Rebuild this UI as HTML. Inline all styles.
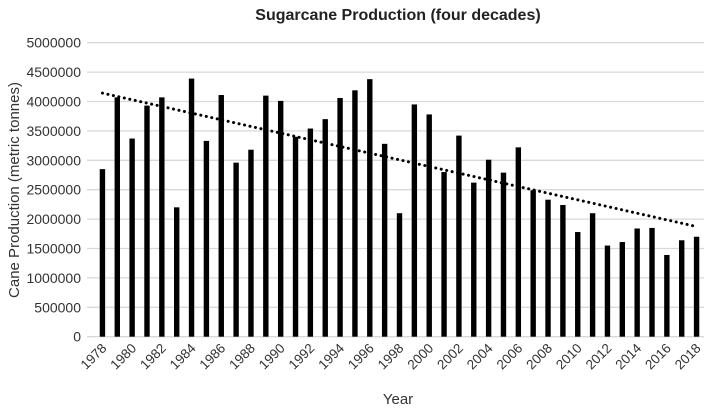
<!DOCTYPE html>
<html><head><meta charset="utf-8"><style>
body{margin:0;background:#fff;}
svg text{font-family:"Liberation Sans",sans-serif;fill:#333;}
</style></head><body>
<svg id="chart" width="709" height="410" xmlns="http://www.w3.org/2000/svg">
<text x="398" y="20" text-anchor="middle" font-size="16" font-weight="bold" style="fill:#222">Sugarcane Production  (four decades)</text>
<text transform="translate(19,190) rotate(-90)" text-anchor="middle" font-size="15">Cane Production (metric tonnes)</text>
<text x="398" y="404" text-anchor="middle" font-size="15">Year</text>
<g id="grid"></g><g id="bars"></g><g id="trend"></g><g id="xt"></g><g id="yt"></g>
</svg>
<script>
const years=[];for(let y=1978;y<=2018;y++)years.push(y);
const production=[2850000,4070000,3370000,3930000,4070000,2200000,4390000,3330000,4110000,2960000,3180000,4100000,4010000,3400000,3540000,3700000,4060000,4190000,4380000,3280000,2100000,3950000,3780000,2800000,3420000,2620000,3010000,2790000,3220000,2490000,2330000,2240000,1780000,2100000,1550000,1610000,1840000,1850000,1390000,1640000,1700000];
const yTicks=[0,500000,1000000,1500000,2000000,2500000,3000000,3500000,4000000,4500000,5000000];
const NS="http://www.w3.org/2000/svg";
const L=95,R=704,T=42.7,B=336.7,yMax=5000000;
const bw=(R-L)/years.length;
const X=i=>L+bw*(i+0.5);
const Y=v=>B-(B-T)*v/yMax;
function mk(tag,attrs,parent,txt){const e=document.createElementNS(NS,tag);for(const k in attrs)e.setAttribute(k,attrs[k]);if(txt!==undefined)e.textContent=txt;document.getElementById(parent).appendChild(e);return e;}
yTicks.forEach(t=>{
 const g=mk('line',{x1:L-8,x2:R,y1:Y(t),y2:Y(t),stroke:'#d9d9d9','stroke-width':1.3},'grid');
 
 
 const tx=mk('text',{x:81,y:Y(t)+5,'text-anchor':'end','font-size':14},'yt',String(t));
 
 
});
production.forEach((v,i)=>{
 const r=mk('rect',{x:X(i)-2.7,y:Y(v),width:5.4,height:B-Y(v),fill:'#000'},'bars');
 
 
});
years.forEach((y,i)=>{if(i%2)return;
 const t=mk('text',{transform:`translate(${X(i)+5},349) rotate(-45)`,'text-anchor':'end','font-size':13.5},'xt',String(y));
 
 
});
const n=production.length;let sx=0,sy=0,sxx=0,sxy=0;
production.forEach((v,i)=>{sx+=i;sy+=v;sxx+=i*i;sxy+=i*v;});
const m=(n*sxy-sx*sy)/(n*sxx-sx*sx),b=(sy-m*sx)/n;
const tl=mk('line',{x1:X(0),y1:Y(b),x2:X(n-1),y2:Y(b+m*(n-1)),stroke:'#000','stroke-width':3,'stroke-dasharray':'0.1 5.5','stroke-linecap':'round'},'trend');


</script>
</body></html>
